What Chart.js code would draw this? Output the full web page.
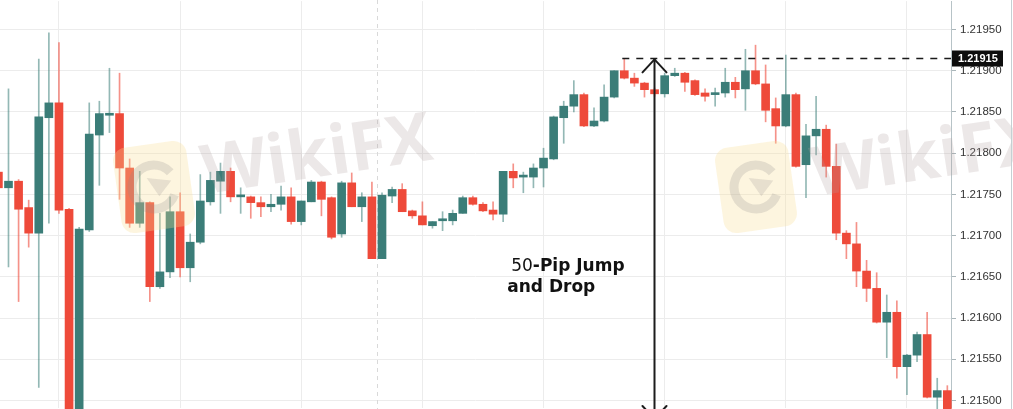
<!DOCTYPE html>
<html>
<head>
<meta charset="utf-8">
<script src="https://cdn.jsdelivr.net/npm/chart.js@4.4.1/dist/chart.umd.min.js"></script>
<style>
html,body{margin:0;padding:0;background:#fff;}
#wrap{width:1013px;height:409px;position:relative;}
</style>
</head>
<body>
<div id="wrap"><canvas id="chart" width="1013" height="409"></canvas></div>
<script>
// ======================= DATA =======================
// EUR/USD candles (left -> right)
const openP  = [1.21777,1.21758,1.21766,1.21734,1.21703,1.21843,1.21861,1.21732,1.21472,1.21707,
                1.21822,1.21846,1.21848,1.21782,1.21715,1.21740,1.21638,1.21656,1.21729,1.21661,
                1.21692,1.21741,1.21766,1.21778,1.21747,1.21747,1.21740,1.21735,1.21738,1.21747,
                1.21717,1.21741,1.21765,1.21746,1.21702,1.21764,1.21735,1.21747,1.21672,1.21748,
                1.21756,1.21730,1.21724,1.21712,1.21718,1.21718,1.21727,1.21746,1.21738,1.21731,
                1.21726,1.21778,1.21771,1.21771,1.21782,1.21793,1.21843,1.21857,1.21871,1.21833,
                1.21839,1.21868,1.21900,1.21891,1.21885,1.21877,1.21872,1.21894,1.21897,1.21888,
                1.21873,1.21871,1.21873,1.21886,1.21878,1.21900,1.21884,1.21854,1.21833,1.21871,
                1.21786,1.21821,1.21829,1.21784,1.21703,1.21690,1.21657,1.21636,1.21595,1.21607,
                1.21541,1.21555,1.21580,1.21504,1.21512];
const highP  = [1.21780,1.21878,1.21768,1.21743,1.21914,1.21946,1.21934,1.21733,1.21710,1.21861,
                1.21863,1.21903,1.21897,1.21793,1.21778,1.21741,1.21727,1.21747,1.21752,1.21702,
                1.21774,1.21777,1.21788,1.21782,1.21758,1.21748,1.21747,1.21750,1.21760,1.21758,
                1.21742,1.21767,1.21766,1.21747,1.21766,1.21776,1.21752,1.21765,1.21752,1.21759,
                1.21763,1.21731,1.21741,1.21717,1.21729,1.21731,1.21748,1.21748,1.21740,1.21741,
                1.21778,1.21787,1.21777,1.21787,1.21806,1.21845,1.21863,1.21888,1.21873,1.21855,
                1.21883,1.21900,1.21915,1.21897,1.21886,1.21879,1.21897,1.21903,1.21898,1.21889,
                1.21878,1.21879,1.21903,1.21892,1.21926,1.21931,1.21907,1.21867,1.21919,1.21873,
                1.21835,1.21869,1.21834,1.21811,1.21706,1.21716,1.21670,1.21655,1.21628,1.21621,
                1.21556,1.21583,1.21607,1.21527,1.21518];
const lowP   = [1.21755,1.21662,1.21620,1.21686,1.21516,1.21715,1.21727,1.21460,1.21465,1.21705,
                1.21761,1.21825,1.21744,1.21710,1.21710,1.21620,1.21636,1.21649,1.21650,1.21644,
                1.21690,1.21737,1.21727,1.21741,1.21727,1.21721,1.21723,1.21729,1.21731,1.21714,
                1.21713,1.21741,1.21724,1.21696,1.21698,1.21735,1.21717,1.21672,1.21672,1.21740,
                1.21729,1.21721,1.21713,1.21709,1.21706,1.21713,1.21727,1.21737,1.21729,1.21719,
                1.21717,1.21758,1.21752,1.21758,1.21759,1.21792,1.21812,1.21850,1.21832,1.21832,
                1.21838,1.21867,1.21890,1.21881,1.21868,1.21869,1.21868,1.21893,1.21875,1.21870,
                1.21863,1.21857,1.21868,1.21867,1.21852,1.21883,1.21838,1.21812,1.21832,1.21783,
                1.21746,1.21798,1.21771,1.21695,1.21672,1.21638,1.21620,1.21594,1.21552,1.21527,
                1.21507,1.21547,1.21503,1.21485,1.21470];
const closeP = [1.21758,1.21766,1.21732,1.21703,1.21844,1.21861,1.21731,1.21470,1.21708,1.21823,
                1.21848,1.21848,1.21782,1.21715,1.21740,1.21638,1.21656,1.21729,1.21661,1.21692,
                1.21742,1.21767,1.21778,1.21747,1.21748,1.21740,1.21735,1.21738,1.21747,1.21717,
                1.21742,1.21765,1.21744,1.21698,1.21764,1.21735,1.21747,1.21672,1.21749,1.21756,
                1.21729,1.21724,1.21713,1.21717,1.21719,1.21727,1.21746,1.21738,1.21730,1.21726,
                1.21778,1.21770,1.21772,1.21782,1.21794,1.21844,1.21857,1.21871,1.21833,1.21839,
                1.21868,1.21900,1.21891,1.21885,1.21877,1.21872,1.21894,1.21897,1.21886,1.21871,
                1.21869,1.21873,1.21886,1.21877,1.21900,1.21884,1.21852,1.21833,1.21871,1.21784,
                1.21821,1.21829,1.21784,1.21703,1.21690,1.21657,1.21636,1.21595,1.21607,1.21541,
                1.21555,1.21580,1.21504,1.21512,1.21480];

const yTicks = [1.2150,1.2155,1.2160,1.2165,1.2170,1.2175,1.2180,1.2185,1.2190,1.2195];
const xGridIdx = [6,18,30,42,54,66,78,90];   // candles that carry a vertical grid line
const sessionBreak = 37.5;                    // dashed vertical separator
const levelPrice = 1.21915;                   // dashed high level + price tag
const levelFrom = 62;                         // candle where the dashed level starts
const arrowIdx = 65;                          // candle the double arrow stands on
const noteAt = {x:50.8, y:1.21657};           // text anchor (index, price)

const UP = "#3b7d78", DN = "#ee4a3a";
const UPW = "rgba(59,125,120,0.55)", DNW = "rgba(238,74,58,0.6)";
const isUp = i => closeP[i] >= openP[i];

// ======================= OVERLAYS =======================
function watermark(ctx, lx, ly, tx, ty){
  ctx.save();
  ctx.translate(lx, ly); ctx.rotate(-0.14);
  ctx.fillStyle = "rgba(250,222,150,0.3)";
  ctx.beginPath(); ctx.roundRect(-37,-43,74,86,13); ctx.fill();
  ctx.strokeStyle = "rgba(140,135,135,0.22)"; ctx.lineWidth = 9;
  ctx.beginPath(); ctx.arc(0,0,22,0.5,Math.PI*2-0.6); ctx.stroke();
  ctx.fillStyle = "rgba(140,135,135,0.2)";
  ctx.beginPath(); ctx.moveTo(-6,-10); ctx.lineTo(18,-4); ctx.lineTo(4,10); ctx.closePath(); ctx.fill();
  ctx.restore();
  ctx.save();
  ctx.translate(tx, ty); ctx.rotate(-0.15);
  ctx.font = "bold 68px 'Open Sans'";
  ctx.fillStyle = "rgba(175,158,158,0.24)";
  ctx.fillText("WikiFX", 0, 0);
  ctx.restore();
}

const overlay = {
  id:"overlay",
  beforeDatasetsDraw(chart){
    const {ctx, scales:{x}} = chart;
    const px = Math.round(x.getPixelForValue(sessionBreak)) + 0.5;
    ctx.save();
    ctx.strokeStyle = "#d9d9d9"; ctx.lineWidth = 1; ctx.setLineDash([4,4]);
    ctx.beginPath(); ctx.moveTo(px, 0); ctx.lineTo(px, 409); ctx.stroke();
    ctx.restore();
  },
  afterDatasetsDraw(chart){
    const {ctx, chartArea:a, scales:{x, y}} = chart;
    watermark(ctx, 154, 187, 205, 194);
    watermark(ctx, 756, 187, 815, 196);

    // dashed level at the high
    const ly = Math.round(y.getPixelForValue(levelPrice)) + 0.5;
    ctx.save();
    ctx.strokeStyle = "#1a1a1a"; ctx.lineWidth = 1.4; ctx.setLineDash([7,7]);
    ctx.beginPath(); ctx.moveTo(x.getPixelForValue(levelFrom) - 2, ly); ctx.lineTo(a.right, ly); ctx.stroke();
    ctx.restore();

    // double arrow
    const ax = Math.round(x.getPixelForValue(arrowIdx)) - 0.5;
    const top = y.getPixelForValue(levelPrice) + 1;
    ctx.save();
    ctx.strokeStyle = "#1c1c1c"; ctx.lineWidth = 2; ctx.lineCap = "round";
    ctx.beginPath(); ctx.moveTo(ax, top); ctx.lineTo(ax, 420); ctx.stroke();
    ctx.beginPath(); ctx.moveTo(ax-12, top+13); ctx.lineTo(ax, top); ctx.lineTo(ax+12, top+13); ctx.stroke();
    ctx.beginPath(); ctx.moveTo(ax-12, 406); ctx.lineTo(ax, 419); ctx.lineTo(ax+12, 406); ctx.stroke();
    ctx.restore();

    // note
    const nx = x.getPixelForValue(noteAt.x), ny = y.getPixelForValue(noteAt.y);
    ctx.save();
    ctx.fillStyle = "#111"; ctx.textBaseline = "alphabetic";
    ctx.font = "17px 'DejaVu Sans'";
    ctx.fillText("50", nx, ny);
    const w50 = ctx.measureText("50").width;
    ctx.font = "bold 17px 'DejaVu Sans'";
    ctx.fillText("-Pip Jump", nx + w50, ny);
    ctx.fillText("and Drop", nx - 4, ny + 21);
    ctx.restore();

    // price tag on the axis
    ctx.save();
    ctx.fillStyle = "#0d0d0d";
    ctx.fillRect(a.right + 1, ly - 8, 51, 16);
    ctx.fillStyle = "#fff"; ctx.font = "bold 11px 'Liberation Sans'"; ctx.textBaseline = "middle";
    ctx.fillText(levelPrice.toFixed(5), a.right + 7, ly + 0.5);
    // right frame
    ctx.strokeStyle = "#c5d0d3"; ctx.lineWidth = 1;
    ctx.beginPath(); ctx.moveTo(1011.5, 0); ctx.lineTo(1011.5, 409); ctx.stroke();
    ctx.restore();
  }
};

// ======================= CHART =======================
const idx = openP.map((_, i) => i);
const chart = new Chart(document.getElementById("chart"), {
  type:"bar",
  data:{
    datasets:[
      { label:"body", data: idx.map(i => ({x:i, y:[openP[i], closeP[i]]})),
        backgroundColor: idx.map(i => isUp(i) ? UP : DN),
        barThickness:8, minBarLength:2, grouped:false, clip:false, borderWidth:0 },
      { label:"wick", data: idx.map(i => ({x:i, y:[lowP[i], highP[i]]})),
        backgroundColor: idx.map(i => isUp(i) ? UPW : DNW),
        barThickness:1, grouped:false, clip:false, borderWidth:0 }
    ]
  },
  options:{
    responsive:false, animation:false, devicePixelRatio:1,
    layout:{padding:0},
    plugins:{legend:{display:false}, tooltip:{enabled:false}},
    scales:{
      x:{ type:"linear", min:0.16, max:94.37, offset:false,
          grid:{color:"#ececec", offset:false, drawTicks:false},
          border:{display:false}, ticks:{display:false},
          afterBuildTicks: s => { s.ticks = xGridIdx.map(v => ({value:v})); } },
      y:{ type:"linear", position:"right", min:1.214897, max:1.219858, beginAtZero:false,
          // long tick line, dashed so only a short mark shows: keeps ticks.padding at 0
          grid:{color:"#ececec", tickLength:9, tickColor:"#aab6ba", tickBorderDash:[4,40]},
          border:{color:"#b7c3c7"},
          ticks:{ padding:0, color:"#333", font:{family:"Liberation Sans", size:11.5, lineHeight:0.2},
                  callback: v => Number(v).toFixed(5) },
          afterBuildTicks: s => { s.ticks = yTicks.map(v => ({value:v})); },
          afterFit: s => { s.width = 62; } }
    }
  },
  plugins:[overlay]
});

// pin the scales to the picture: 1.21950 at y=29.5, 1.21500 at y=400.5, 10.095 px per candle
const ca = chart.chartArea;
const ppu = (400.5 - 29.5) / (1.2195 - 1.2150);
chart.options.scales.y.max = 1.2195 + (29.5 - ca.top) / ppu;
chart.options.scales.y.min = 1.2150 - (ca.bottom - 400.5) / ppu;
const pxPer = 10.095;
chart.options.scales.x.min = (ca.left + 1.6) / pxPer;
chart.options.scales.x.max = chart.options.scales.x.min + (ca.right - ca.left) / pxPer;
chart.update("none");
</script>
</body>
</html>
